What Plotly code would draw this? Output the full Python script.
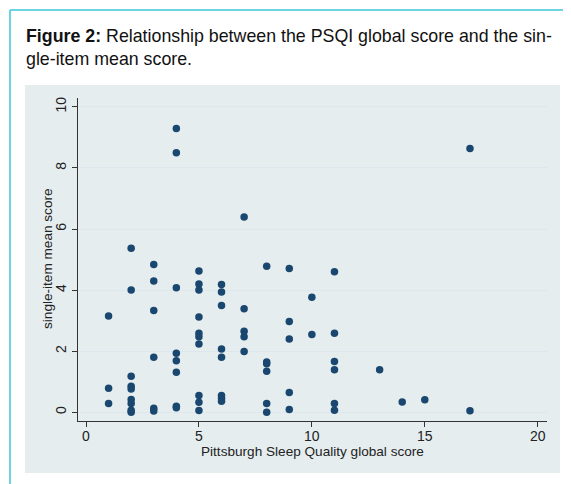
import plotly.graph_objects as go

# PSQI global score (x) and single-item mean score (y)
psqi = [1, 1, 1,
        2, 2, 2, 2, 2, 2, 2, 2, 2,
        3, 3, 3, 3, 3, 3,
        4, 4, 4, 4, 4, 4, 4, 4,
        5, 5, 5, 5, 5, 5, 5, 5, 5, 5,
        6, 6, 6, 6, 6, 6, 6, 6,
        7, 7, 7, 7, 7,
        8, 8, 8, 8, 8, 8,
        9, 9, 9, 9, 9,
        10, 10,
        11, 11, 11, 11, 11, 11,
        13, 14, 15, 17, 17]
single_item = [3.15, 0.79, 0.29,
               5.37, 4.00, 1.18, 0.85, 0.76, 0.42, 0.29, 0.07, 0.00,
               4.84, 4.30, 3.33, 1.80, 0.13, 0.04,
               9.29, 8.50, 4.08, 1.93, 1.69, 1.31, 0.20, 0.15,
               4.63, 4.20, 4.00, 3.12, 2.59, 2.47, 2.24, 0.55, 0.33, 0.06,
               4.18, 3.94, 3.50, 2.07, 1.80, 0.55, 0.46, 0.36,
               6.39, 3.39, 2.65, 2.47, 1.99,
               4.78, 1.65, 1.59, 1.34, 0.29, 0.00,
               4.71, 2.97, 2.40, 0.65, 0.09,
               3.77, 2.55,
               4.60, 2.59, 1.66, 1.39, 0.29, 0.07,
               1.39, 0.34, 0.41, 8.64, 0.05]

x_ticks = [0, 5, 10, 15, 20]
y_ticks = [0, 2, 4, 6, 8, 10]

# the page body adds an 8px margin, so the figure is drawn 8px smaller
OFF = 8
W, H = 571 - OFF, 484 - OFF
FONT = "Liberation Sans, Arial, sans-serif"


def px_x(p):
    return (p - OFF) / W


def px_y(p):
    return 1 - (p - OFF) / H


fig = go.Figure()
fig.add_trace(go.Scatter(
    x=psqi, y=single_item, mode="markers",
    marker=dict(color="#1A476F", size=7.5, line=dict(width=0)),
    hoverinfo="x+y", showlegend=False,
))

fig.update_layout(
    width=W, height=H,
    margin=dict(l=0, r=0, t=0, b=0, autoexpand=False),
    paper_bgcolor="white",
    plot_bgcolor="white",
    font=dict(family=FONT, color="#222222"),
    xaxis=dict(
        domain=[px_x(78), px_x(547)],
        range=[-0.354, 20.41],
        automargin=False,
        tickvals=x_ticks, ticktext=[str(v) for v in x_ticks],
        showgrid=False, zeroline=False,
        showline=True, linecolor="#333333", linewidth=1,
        ticks="outside", ticklen=5, tickcolor="#333333", tickwidth=1,
        ticklabelstandoff=-3,
        tickfont=dict(size=14, family=FONT, color="#222222"),
    ),
    yaxis=dict(
        domain=[px_y(421), px_y(98)],
        range=[-0.285, 10.29],
        automargin=False,
        tickvals=y_ticks, ticktext=[str(v) for v in y_ticks],
        tickangle=-90,
        showgrid=True, gridcolor="#DCE8EE", gridwidth=1,
        zeroline=False,
        showline=True, linecolor="#333333", linewidth=1,
        ticks="outside", ticklen=5, tickcolor="#333333", tickwidth=1,
        tickfont=dict(size=14, family=FONT, color="#222222"),
    ),
    shapes=[
        # graph region panel
        dict(type="rect", xref="paper", yref="paper", layer="below",
             x0=px_x(25), x1=px_x(560), y0=px_y(473), y1=px_y(85),
             fillcolor="#E5EDEF", line=dict(width=0)),
        # cyan frame lines
        dict(type="line", xref="paper", yref="paper",
             x0=px_x(10), x1=px_x(10), y0=px_y(10), y1=0,
             line=dict(color="#3CC6DA", width=1.5)),
        dict(type="line", xref="paper", yref="paper",
             x0=px_x(10), x1=1, y0=px_y(10), y1=px_y(10),
             line=dict(color="#3CC6DA", width=1.5)),
    ],
    annotations=[
        dict(xref="paper", yref="paper", x=px_x(24), y=px_y(24),
             xanchor="left", yanchor="top", align="left", showarrow=False,
             text="<b>Figure 2:</b> Relationship between the PSQI global score and the sin-<br>gle-item mean score.",
             font=dict(size=17.8, family=FONT, color="#111111")),
        # axis titles
        dict(xref="paper", yref="paper", x=px_x(312), y=px_y(451),
             xanchor="center", yanchor="middle", showarrow=False,
             text="Pittsburgh Sleep Quality global score",
             font=dict(size=13.6, family=FONT, color="#222222")),
        dict(xref="paper", yref="paper", x=px_x(47), y=px_y(259),
             xanchor="center", yanchor="middle", showarrow=False, textangle=-90,
             text="single-item mean score",
             font=dict(size=13.6, family=FONT, color="#222222")),
    ],
)

fig.write_html("out.html")
